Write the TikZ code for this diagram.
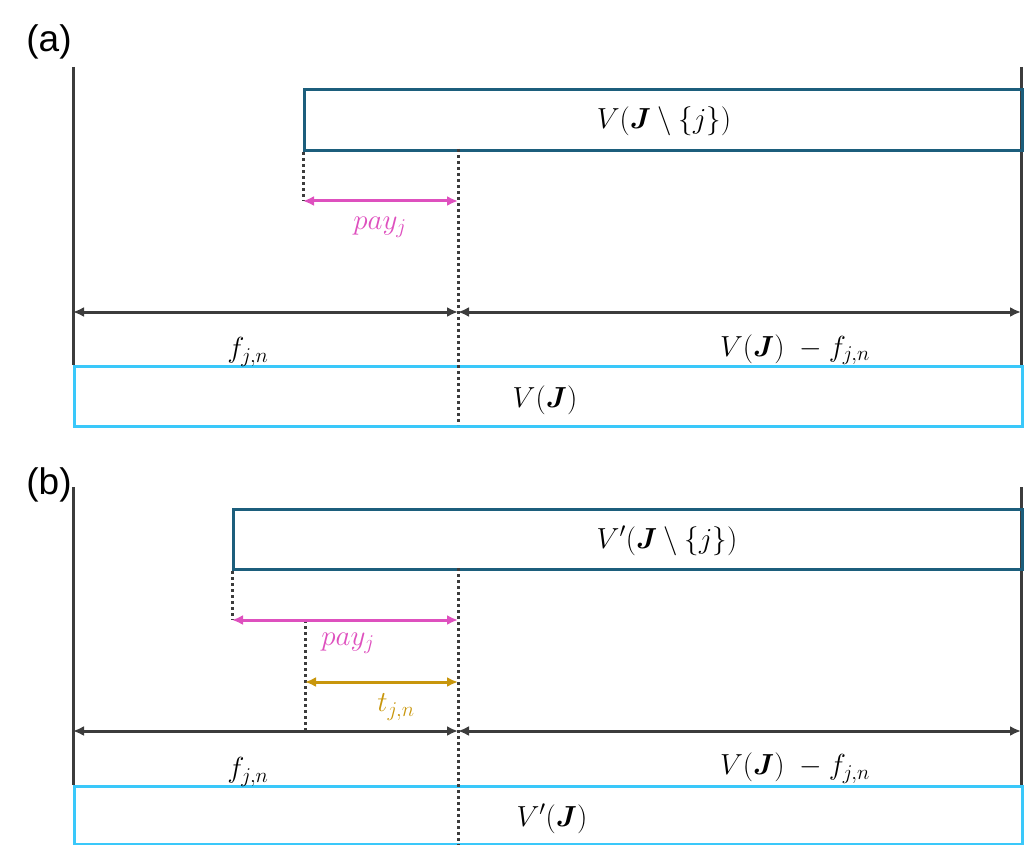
\RequirePackage{fix-cm}
\documentclass[tikz,border=0pt]{standalone}
\usepackage{amsmath}
\usepackage{bm}
\usepackage{fontspec}
\setsansfont{Liberation Sans}
\DeclareMathSizes{29}{29}{21}{15}
\usetikzlibrary{arrows.meta}
\definecolor{axisgray}{RGB}{60,60,60}
\definecolor{darkbox}{RGB}{28,94,124}
\definecolor{lightbox}{RGB}{58,200,250}
\definecolor{paypink}{RGB}{222,80,190}
\definecolor{goldt}{RGB}{200,150,12}
\begin{document}
\begin{tikzpicture}[x=1pt,y=-1pt,
  axis/.style={draw=axisgray,line width=3pt},
  dimarrow/.style={line width=3pt,{Latex[length=11pt,width=10pt]}-{Latex[length=11pt,width=10pt]}},
  dotline/.style={draw=axisgray,line width=3pt,dash pattern=on 3pt off 3pt},
  topbox/.style={draw=darkbox,line width=3.4pt,anchor=north west,inner sep=0pt},
  basebox/.style={draw=lightbox,line width=3.4pt,anchor=north west,inner sep=0pt},
  lbl/.style={font=\fontsize{29}{34}\selectfont,inner sep=0pt},
  panel/.style={font=\sffamily\fontsize{37}{42}\selectfont,inner sep=0pt}]
\useasboundingbox (0,0) rectangle (1033,845);

% ---------------- (a) ----------------
\node[panel] (la) at (49,42) {(a)};
\coordinate (aLT) at (73,67);
\coordinate (aLB) at (73,365);
\coordinate (aRT) at (1021,67);
\coordinate (aRB) at (1021,365);
\draw[axis] (aLT) -- (aLB);
\draw[axis] (aRT) -- (aRB);
\node[topbox,minimum width=718pt,minimum height=61pt] (aTop) at (303,88) {};
\node[basebox,minimum width=948pt,minimum height=60pt] (aBase) at (73,365) {};
\node[lbl] (aTopT) at (664,121) {$V(\bm{J}\setminus\{j\})$};
\node[lbl] (aBaseT) at (545,400) {$V(\bm{J})$};
\coordinate (aPL) at (303,201);
\coordinate (aPR) at (458,201);
\coordinate (aMidTop) at (458,149);
\coordinate (aMidBot) at (458,425);
\coordinate (aAL) at (73,312);
\coordinate (aAM) at (458,312);
\coordinate (aAR) at (1021,312);
\draw[dotline] (aTop.south west) -- (aPL);
\draw[dimarrow,paypink] (aPL) -- (aPR);
\node[lbl,text=paypink] (aPay) at (380,227) {$pay_j$};
\draw[dimarrow,axisgray] (aAL) -- (aAM);
\draw[dimarrow,axisgray] (aAM) -- (aAR);
\node[lbl] (aF) at (248,352) {$f_{j,n}$};
\node[lbl] (aVF) at (795,350) {$V(\bm{J})\ -f_{j,n}$};
\draw[dotline] (aMidTop) -- (aMidBot);

% ---------------- (b) ----------------
\node[panel] (lb) at (49,485) {(b)};
\coordinate (bLT) at (73,487);
\coordinate (bLB) at (73,785);
\coordinate (bRT) at (1021,487);
\coordinate (bRB) at (1021,785);
\draw[axis] (bLT) -- (bLB);
\draw[axis] (bRT) -- (bRB);
\node[topbox,minimum width=789pt,minimum height=60pt] (bTop) at (232,508) {};
\node[basebox,minimum width=948pt,minimum height=58pt] (bBase) at (73,785) {};
\node[lbl] (bTopT) at (667,541) {$V'(\bm{J}\setminus\{j\})$};
\node[lbl] (bBaseT) at (552,819) {$V'(\bm{J})$};
\coordinate (bPL) at (232,620);
\coordinate (bPR) at (458,620);
\coordinate (bTL) at (305,682);
\coordinate (bTR) at (458,682);
\coordinate (bTTop) at (305,620);
\coordinate (bTBot) at (305,731);
\coordinate (bMidTop) at (458,568);
\coordinate (bMidBot) at (458,845);
\coordinate (bAL) at (73,731);
\coordinate (bAM) at (458,731);
\coordinate (bAR) at (1021,731);
\draw[dotline] (bTop.south west) -- (bPL);
\draw[dotline] (bTTop) -- (bTBot);
\draw[dimarrow,paypink] (bPL) -- (bPR);
\node[lbl,text=paypink] (bPay) at (348,643) {$pay_j$};
\draw[dimarrow,goldt] (bTL) -- (bTR);
\node[lbl,text=goldt] (bT) at (396,707) {$t_{j,n}$};
\draw[dimarrow,axisgray] (bAL) -- (bAM);
\draw[dimarrow,axisgray] (bAM) -- (bAR);
\node[lbl] (bF) at (248,772) {$f_{j,n}$};
\node[lbl] (bVF) at (795,768) {$V(\bm{J})\ -f_{j,n}$};
\draw[dotline] (bMidTop) -- (bMidBot);
\end{tikzpicture}
\end{document}
